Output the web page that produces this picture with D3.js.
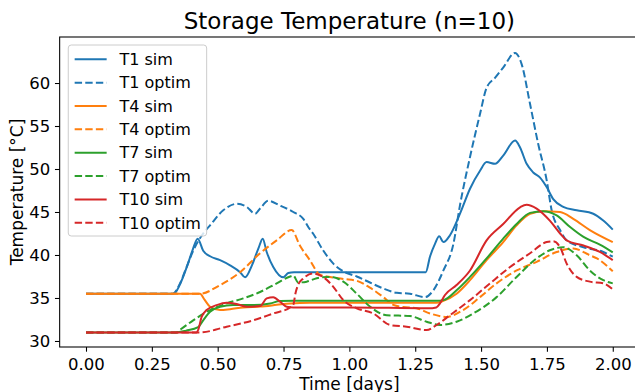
<!DOCTYPE html>
<html>
<head>
<meta charset="utf-8">
<script src="https://cdn.jsdelivr.net/npm/d3@7"></script>
<style>
  body { margin: 0; background: #fff; }
  svg { display: block; font-family: "DejaVu Sans", sans-serif; }
</style>
</head>
<body>
<svg id="chart" width="635" height="392"></svg>
<script>
// time [days], temperature [°C] pairs
const t1Sim = [[0,35.5],[0.33,35.5],[0.338,35.6],[0.36,36.8],[0.385,38.8],[0.405,40.6],[0.424,41.9],[0.445,40.5],[0.471,39.85],[0.509,39.4],[0.547,38.8],[0.585,38.0],[0.604,37.4],[0.63,38.8],[0.655,40.8],[0.671,41.9],[0.686,40.35],[0.711,38.6],[0.749,37.4],[0.768,37.9],[0.79,38.0],[1.0,38.0],[1.29,38.0],[1.306,39.8],[1.325,41.3],[1.341,42.17],[1.357,41.5],[1.382,42.3],[1.42,44.8],[1.458,47.7],[1.496,49.8],[1.521,50.8],[1.553,50.6],[1.584,51.55],[1.629,53.3],[1.648,52.5],[1.673,50.6],[1.698,49.6],[1.724,49.0],[1.749,47.9],[1.774,46.5],[1.812,45.6],[1.863,45.2],[1.926,44.8],[1.964,44.0],[2.0,42.95]];
const t1Opt = [[0,35.5],[0.33,35.5],[0.357,36.7],[0.382,38.6],[0.407,40.5],[0.445,42.5],[0.471,43.45],[0.521,45.2],[0.572,45.95],[0.61,45.6],[0.642,44.8],[0.661,45.4],[0.692,46.3],[0.737,45.75],[0.787,45.0],[0.825,44.2],[0.845,43.2],[0.862,42.5],[0.9,40.55],[0.939,39.0],[0.977,38.1],[1.028,37.5],[1.078,36.8],[1.129,36.1],[1.18,35.6],[1.23,35.5],[1.287,35.1],[1.319,35.9],[1.357,38.2],[1.395,41.3],[1.42,45.8],[1.458,51.4],[1.496,56.4],[1.521,59.45],[1.553,60.6],[1.584,61.8],[1.629,63.5],[1.654,62.2],[1.686,57.55],[1.717,52.9],[1.749,48.7],[1.768,45.2],[1.8,42.9],[1.825,41.7],[1.889,40.9],[1.964,40.35],[2.0,39.8]];
const t4Sim = [[0,35.5],[0.433,35.5],[0.45,34.8],[0.471,33.98],[0.509,33.6],[0.547,33.7],[0.597,33.9],[0.661,34.0],[0.724,34.2],[0.775,34.37],[0.85,34.45],[1.0,34.45],[1.33,34.45],[1.357,34.67],[1.407,35.5],[1.458,37.07],[1.521,39.4],[1.584,41.5],[1.635,43.45],[1.686,44.8],[1.736,45.1],[1.8,44.99],[1.85,44.2],[1.913,42.9],[2.0,41.5]];
const t4Opt = [[0,35.5],[0.433,35.5],[0.509,36.5],[0.585,38.0],[0.661,40.2],[0.724,41.7],[0.781,42.9],[0.812,41.1],[0.85,39.4],[0.888,37.7],[0.926,37.45],[0.98,37.2],[1.028,37.0],[1.078,36.2],[1.129,35.1],[1.167,34.2],[1.205,33.95],[1.255,33.8],[1.306,33.2],[1.369,32.8],[1.432,33.6],[1.496,35.1],[1.559,36.7],[1.635,38.2],[1.711,39.2],[1.787,40.35],[1.85,40.75],[1.913,39.97],[1.94,39.6],[2.0,38.1]];
const t7Sim = [[0,31],[0.34,31],[0.38,31.2],[0.426,31.6],[0.445,32.4],[0.471,33.4],[0.509,33.98],[0.559,34.17],[0.635,34.17],[0.699,34.37],[0.737,34.64],[0.787,34.67],[1.0,34.67],[1.33,34.67],[1.357,34.75],[1.407,35.9],[1.458,37.45],[1.521,39.6],[1.584,41.9],[1.635,43.6],[1.686,44.9],[1.736,45.1],[1.787,44.6],[1.838,43.25],[1.889,42.1],[1.951,41.2],[2.0,40.3]];
const t7Opt = [[0,31],[0.344,31],[0.357,31.3],[0.407,32.4],[0.471,33.6],[0.534,34.37],[0.597,34.95],[0.661,35.7],[0.724,36.7],[0.775,37.5],[0.787,37.6],[0.806,36.8],[0.838,36.9],[0.876,37.3],[0.914,37.45],[0.94,37.4],[0.977,36.9],[1.028,35.5],[1.078,34.0],[1.142,33.0],[1.23,32.9],[1.293,32.24],[1.344,31.86],[1.407,32.24],[1.47,33.2],[1.559,35.1],[1.635,37.45],[1.711,39.6],[1.761,40.55],[1.812,40.9],[1.863,39.97],[1.913,38.2],[1.964,37.07],[2.0,36.7]];
const t10Sim = [[0,31],[0.42,31],[0.426,31.3],[0.439,32.8],[0.458,33.6],[0.496,34.17],[0.534,34.45],[0.572,34.3],[0.61,33.98],[0.661,34.06],[0.686,34.95],[0.711,35.1],[0.737,34.56],[0.762,33.98],[0.787,33.9],[1.0,33.9],[1.3,33.8],[1.33,33.9],[1.344,34.37],[1.363,35.35],[1.407,36.5],[1.458,38.2],[1.521,41.7],[1.584,43.6],[1.648,45.55],[1.673,45.85],[1.711,45.4],[1.761,44.0],[1.8,42.5],[1.825,41.7],[1.889,41.1],[1.951,40.35],[2.0,39.4]];
const t10Opt = [[0,31],[0.433,31],[0.534,31.66],[0.635,32.4],[0.711,33.2],[0.775,33.9],[0.787,34.2],[0.795,35.5],[0.805,36.5],[0.825,37.27],[0.862,37.85],[0.9,37.45],[0.939,36.3],[0.977,34.75],[1.028,33.8],[1.091,33.2],[1.154,31.86],[1.217,31.66],[1.293,31.27],[1.331,31.86],[1.382,33.0],[1.458,34.75],[1.534,36.7],[1.61,38.6],[1.686,40.2],[1.749,41.5],[1.774,41.6],[1.8,40.9],[1.825,39.0],[1.863,37.45],[1.913,36.9],[1.964,36.7],[2.0,36.0]];

const seriesNames = ['T1 sim', 'T1 optim', 'T4 sim', 'T4 optim', 'T7 sim', 'T7 optim', 'T10 sim', 'T10 optim'];
const seriesData = [t1Sim, t1Opt, t4Sim, t4Opt, t7Sim, t7Opt, t10Sim, t10Opt];
const seriesColors = ['#1f77b4', '#1f77b4', '#ff7f0e', '#ff7f0e', '#2ca02c', '#2ca02c', '#d62728', '#d62728'];
const xTicks = [0, 0.25, 0.5, 0.75, 1, 1.25, 1.5, 1.75, 2];
const yTicks = [30, 35, 40, 45, 50, 55, 60];

const svg = d3.select('#chart');
const tickFont = 16.5;
const labelFont = 17;
const legendFont = 16;

// axes box (right edge falls outside the picture, like the reference)
const x = d3.scaleLinear().domain([-0.1, 2.1]).range([59.66, 639.1]);
const y = d3.scaleLinear().domain([29.3, 65.35]).range([347, 37]);
const [x0, x1] = x.range();
const [yb, yt] = y.range();

svg.append('defs').append('clipPath').attr('id', 'plot-clip')
  .append('rect')
  .attr('x', x0).attr('y', yt)
  .attr('width', x1 - x0).attr('height', yb - yt);

// lines
const line = d3.line()
  .x(d => x(d[0]))
  .y(d => y(d[1]))
  .curve(d3.curveMonotoneX);

const lines = svg.append('g').attr('clip-path', 'url(#plot-clip)');
seriesData.forEach((data, i) => {
  lines.append('path')
    .datum(data)
    .attr('d', line)
    .attr('fill', 'none')
    .attr('stroke', seriesColors[i])
    .attr('stroke-width', 2)
    .attr('stroke-dasharray', i % 2 === 1 ? '7.4,3.2' : null);
});

// x axis
const xAxis = svg.append('g')
  .attr('transform', `translate(0, ${yb})`)
  .call(d3.axisBottom(x).tickValues(xTicks).tickFormat(d3.format('.2f')).tickSizeOuter(0).tickSize(4.7).tickPadding(4.7));
xAxis.select('.domain').remove();
xAxis.selectAll('line').attr('stroke', '#000').attr('stroke-width', 1.07);
xAxis.selectAll('text')
  .attr('font-family', 'DejaVu Sans')
  .attr('font-size', tickFont)
  .attr('fill', '#000')
  .attr('dy', null)
  .attr('y', 23);

// y axis
const yAxis = svg.append('g')
  .attr('transform', `translate(${x0}, 0)`)
  .call(d3.axisLeft(y).tickValues(yTicks).tickSizeOuter(0).tickSize(4.7).tickPadding(4.7));
yAxis.select('.domain').remove();
yAxis.selectAll('line').attr('stroke', '#000').attr('stroke-width', 1.07);
yAxis.selectAll('text')
  .attr('font-family', 'DejaVu Sans')
  .attr('font-size', tickFont)
  .attr('fill', '#000')
  .attr('dy', '0.36em');

// spines
svg.append('rect')
  .attr('x', x0).attr('y', yt)
  .attr('width', x1 - x0).attr('height', yb - yt)
  .attr('fill', 'none')
  .attr('stroke', '#000')
  .attr('stroke-width', 1.07);

// labels
svg.append('text')
  .attr('x', (x0 + x1) / 2)
  .attr('y', 389.5)
  .attr('text-anchor', 'middle')
  .attr('font-size', labelFont)
  .text('Time [days]');

svg.append('text')
  .attr('transform', `translate(23, ${(yt + yb) / 2}) rotate(-90)`)
  .attr('text-anchor', 'middle')
  .attr('font-size', labelFont)
  .text('Temperature [°C]');

svg.append('text')
  .attr('x', (x0 + x1) / 2)
  .attr('y', 29)
  .attr('text-anchor', 'middle')
  .attr('font-size', 23)
  .text('Storage Temperature (n=10)');

// legend
const legend = svg.append('g').attr('transform', `translate(${x0 + 8.6}, ${yt + 8})`);
legend.append('rect')
  .attr('width', 138.4).attr('height', 191)
  .attr('rx', 3)
  .attr('fill', '#fff').attr('fill-opacity', 0.8)
  .attr('stroke', '#cccccc').attr('stroke-width', 1);

seriesNames.forEach((name, i) => {
  const cy = 14.3 + i * 23.35;
  legend.append('line')
    .attr('x1', 6.4).attr('x2', 38.4)
    .attr('y1', cy).attr('y2', cy)
    .attr('stroke', seriesColors[i])
    .attr('stroke-width', 2)
    .attr('stroke-dasharray', i % 2 === 1 ? '7.4,3.2' : null);
  legend.append('text')
    .attr('x', 51.2).attr('y', cy)
    .attr('dy', '0.36em')
    .attr('font-size', legendFont)
    .text(name);
});
</script>
</body>
</html>
